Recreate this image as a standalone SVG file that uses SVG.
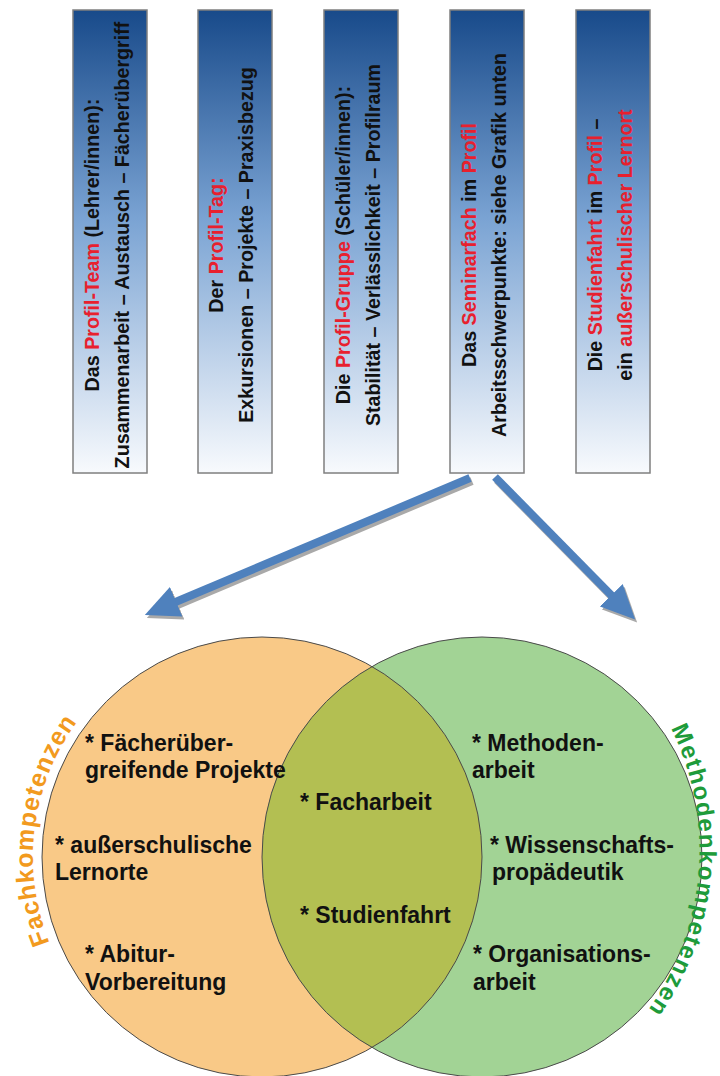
<svg xmlns="http://www.w3.org/2000/svg" width="720" height="1076" viewBox="0 0 720 1076">
<defs>
<linearGradient id="boxGrad" x1="0" y1="0" x2="0" y2="1">
<stop offset="0" stop-color="#184a8a"/>
<stop offset="0.45" stop-color="#7aa3d3"/>
<stop offset="1" stop-color="#f8fafd"/>
</linearGradient>
<clipPath id="clipLeft"><circle cx="262" cy="857" r="220"/></clipPath>
<marker id="headBlue" markerUnits="userSpaceOnUse" markerWidth="34" markerHeight="34" viewBox="0 0 34 34" refX="11" refY="17" orient="auto"><path d="M0,1 L34,17 L0,33 Z" fill="#4f81bd"/></marker>
<marker id="headGray" markerUnits="userSpaceOnUse" markerWidth="34" markerHeight="34" viewBox="0 0 34 34" refX="11" refY="17" orient="auto"><path d="M0,1 L34,17 L0,33 Z" fill="#a9a9a9"/></marker>
<path id="arcLeft" d="M49.7,942.8 A229,229 0 0 1 76.7,722.4"/>
<path id="arcRight" d="M671.0,728.3 A275,275 0 0 1 648.6,1009.2"/>
</defs>
<style>
.box{fill:url(#boxGrad);stroke:#7f7f7f;stroke-width:1.5}
.bt{font-family:"Liberation Sans",Arial,sans-serif;font-weight:bold;font-size:19.7px;fill:#111;text-anchor:middle}
.red{fill:#e8202e}
.ct{font-family:"Liberation Sans",Arial,sans-serif;font-weight:bold;font-size:23px;fill:#111}
.lab{font-family:"Liberation Sans",Arial,sans-serif;font-weight:bold;font-size:25px}
.labr{font-family:"Liberation Sans",Arial,sans-serif;font-weight:bold;font-size:24px}
.circ{fill:none;stroke:#4a4a4a;stroke-width:1}
</style>
<rect width="720" height="1076" fill="#ffffff"/>

<g id="box1">
<rect class="box" x="73" y="10" width="74" height="463"/>
<text class="bt" transform="translate(99,245) rotate(-90)">Das <tspan class="red">Profil-Team</tspan> (Lehrer/innen):</text>
<text class="bt" transform="translate(129,245) rotate(-90)">Zusammenarbeit – Austausch – Fächerübergriff</text>
</g>
<g id="box2">
<rect class="box" x="198" y="10" width="74" height="463"/>
<text class="bt" transform="translate(223,245) rotate(-90)">Der <tspan class="red">Profil-Tag:</tspan></text>
<text class="bt" transform="translate(253,245) rotate(-90)">Exkursionen – Projekte – Praxisbezug</text>
</g>
<g id="box3">
<rect class="box" x="324" y="10" width="74" height="463"/>
<text class="bt" transform="translate(350,245) rotate(-90)">Die <tspan class="red">Profil-Gruppe</tspan> (Schüler/innen):</text>
<text class="bt" transform="translate(380,245) rotate(-90)">Stabilität – Verlässlichkeit – Profilraum</text>
</g>
<g id="box4">
<rect class="box" x="450" y="10" width="74" height="463"/>
<text class="bt" transform="translate(476,245) rotate(-90)">Das <tspan class="red">Seminarfach</tspan> im <tspan class="red">Profil</tspan></text>
<text class="bt" transform="translate(506,245) rotate(-90)">Arbeitsschwerpunkte: siehe Grafik unten</text>
</g>
<g id="box5">
<rect class="box" x="576" y="10" width="74" height="463"/>
<text class="bt" transform="translate(602,245) rotate(-90)">Die <tspan class="red">Studienfahrt</tspan> im <tspan class="red">Profil</tspan> –</text>
<text class="bt" transform="translate(632,245) rotate(-90)">ein <tspan class="red">außerschulischer Lernort</tspan></text>
</g>

<g id="connectors">
<g transform="translate(2,3)">
<path d="M470,478 L166,606" stroke="#a9a9a9" stroke-width="8" fill="none" marker-end="url(#headGray)"/>
<path d="M495,477 L619,603" stroke="#a9a9a9" stroke-width="8" fill="none" marker-end="url(#headGray)"/>
</g>
<path d="M470,478 L166,606" stroke="#4f81bd" stroke-width="8" fill="none" marker-end="url(#headBlue)"/>
<path d="M495,477 L619,603" stroke="#4f81bd" stroke-width="8" fill="none" marker-end="url(#headBlue)"/>
</g>

<g id="venn">
<circle cx="262" cy="857" r="220" fill="#f9c987"/>
<circle cx="482" cy="857" r="220" fill="#a2d395"/>
<circle cx="482" cy="857" r="220" fill="#b3bf52" clip-path="url(#clipLeft)"/>
<circle class="circ" cx="262" cy="857" r="220"/>
<circle class="circ" cx="482" cy="857" r="220"/>
</g>

<g id="fachkompetenzen">
<text class="lab" fill="#f29a1e"><textPath href="#arcLeft" textLength="232" lengthAdjust="spacing">Fachkompetenzen</textPath></text>
<text class="ct" x="85" y="751">* Fächerüber-</text>
<text class="ct" x="85" y="778">greifende Projekte</text>
<text class="ct" x="55" y="853">* außerschulische</text>
<text class="ct" x="55" y="880">Lernorte</text>
<text class="ct" x="85" y="962">* Abitur-</text>
<text class="ct" x="85" y="990">Vorbereitung</text>
</g>

<g id="schnittmenge">
<text class="ct" x="300" y="810">* Facharbeit</text>
<text class="ct" x="300" y="923">* Studienfahrt</text>
</g>

<g id="methodenkompetenzen">
<text class="labr" fill="#1e9b3a"><textPath href="#arcRight" textLength="296" lengthAdjust="spacing">Methodenkompetenzen</textPath></text>
<text class="ct" x="472" y="751">* Methoden-</text>
<text class="ct" x="472" y="778">arbeit</text>
<text class="ct" x="490" y="853">* Wissenschafts-</text>
<text class="ct" x="492" y="880">propädeutik</text>
<text class="ct" x="473" y="962">* Organisations-</text>
<text class="ct" x="473" y="990">arbeit</text>
</g>
</svg>
